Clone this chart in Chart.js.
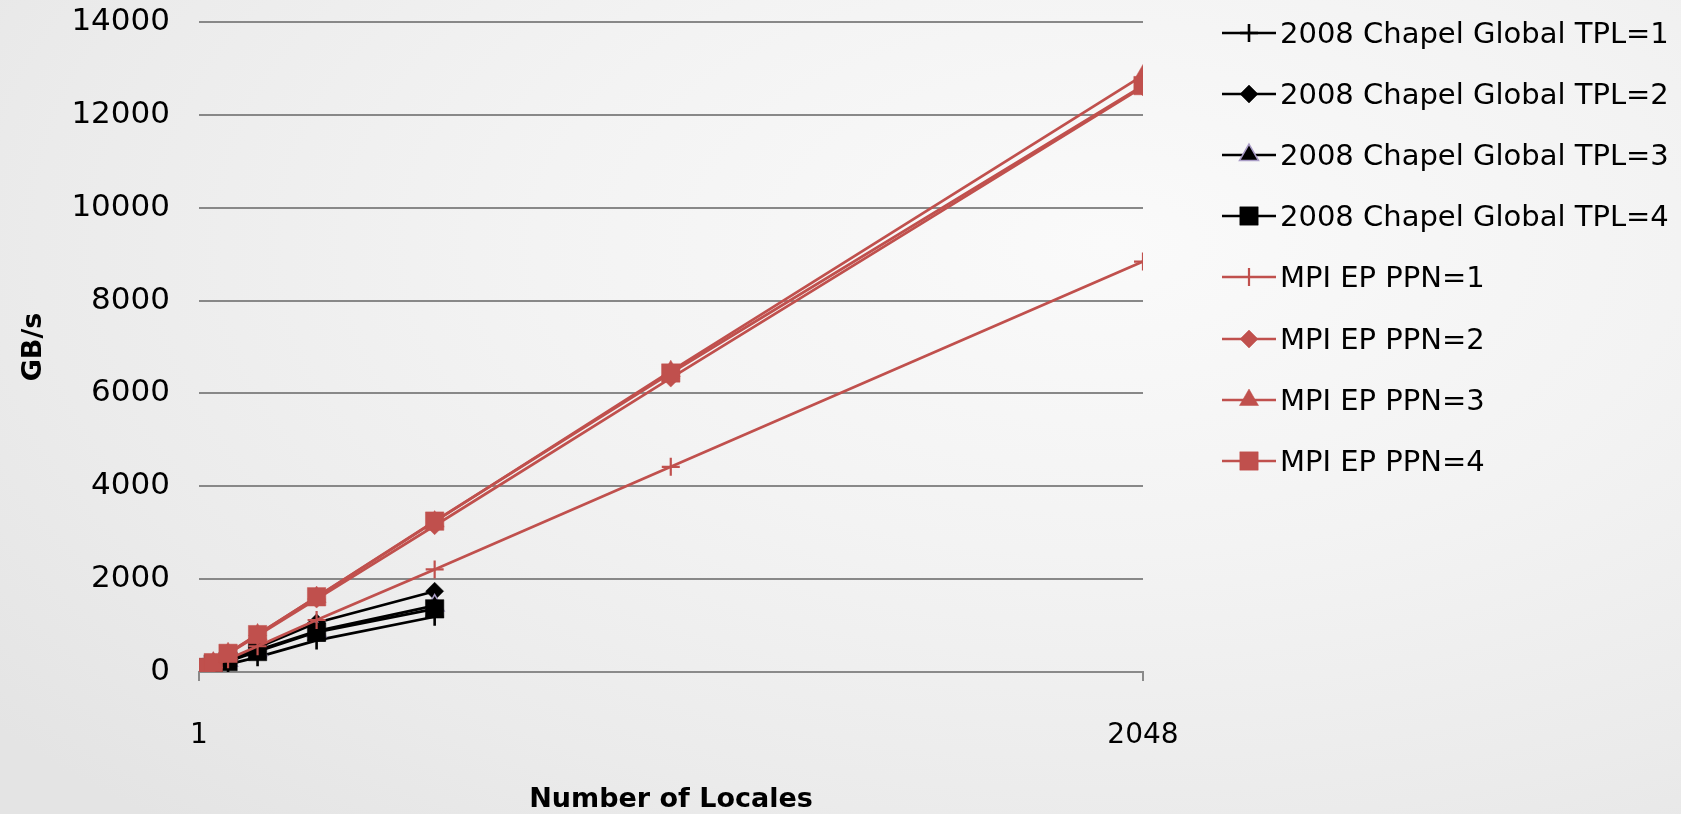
<!DOCTYPE html>
<html>
<head>
<meta charset="utf-8">
<title>Chapel vs MPI EP bandwidth</title>
<script src="https://cdn.jsdelivr.net/npm/chart.js@4.4.0/dist/chart.umd.min.js"></script>
<style>
  html, body { margin: 0; padding: 0; }
  body {
    width: 1681px; height: 814px; overflow: hidden; position: relative;
    background: radial-gradient(ellipse 85% 95% at 66% 30%, #fafafa 0%, #f3f3f3 40%, #ebebeb 75%, #e4e4e4 100%);
    font-family: "DejaVu Sans", sans-serif;
  }
  #wrap { position: absolute; left: 0; top: 0; width: 1681px; height: 814px; }
  #legend { position: absolute; left: 1222px; top: 0; }
  .row { position: absolute; left: 0; height: 40px; display: flex; align-items: center; white-space: nowrap; }
  .row canvas { width: 56px; height: 40px; }
  .row span { font-size: 29px; color: #000; margin-left: 2px; line-height: 40px; }
</style>
</head>
<body>
<div id="wrap"><canvas id="bw"></canvas></div>
<div id="legend"></div>
<script>
// ── Data ────────────────────────────────────────────────────
const locales = [1, 2, 4, 8, 16, 32, 64, 128, 256, 512, 1024, 2048];
const chapelLocales = [1, 2, 4, 8, 16, 32, 64, 128, 256, 512];

const chapelTpl1 = [4, 8, 16, 32, 62, 120, 165, 320, 680, 1190];
const chapelTpl2 = [6, 12, 24, 48, 95, 185, 270, 530, 1060, 1740];
const chapelTpl3 = [6, 12, 23, 46, 90, 175, 240, 470, 880, 1430];
const chapelTpl4 = [6, 12, 23, 45, 88, 170, 225, 440, 860, 1360];

const mpiPpn1 = [4.3, 8.6, 17, 35, 69, 138, 277, 555, 1120, 2210, 4420, 8840];
const mpiPpn2 = [6.1, 12.2, 24.5, 49, 98, 196, 393, 785, 1570, 3150, 6330, 12600];
const mpiPpn3 = [6.3, 12.6, 25, 50, 101, 202, 404, 810, 1615, 3240, 6480, 12850];
const mpiPpn4 = [6.3, 12.6, 25, 50, 100, 201, 402, 805, 1620, 3250, 6440, 12630];

const xTickValues = [1, 2048];
const yTicks = { min: 0, max: 14000, step: 2000 };

const BLACK = '#000000';
const RED = '#c0504d';
const FONT = '"DejaVu Sans", sans-serif';

function pairs(xs, ys) {
  return ys.map((y, i) => ({ x: xs[i], y }));
}

// marker settings per series
const seriesDefs = [
  { label: '2008 Chapel Global TPL=1', xs: chapelLocales, ys: chapelTpl1, color: BLACK, style: 'cross', r: 9 },
  { label: '2008 Chapel Global TPL=2', xs: chapelLocales, ys: chapelTpl2, color: BLACK, style: 'rectRot', r: 9 },
  { label: '2008 Chapel Global TPL=3', xs: chapelLocales, ys: chapelTpl3, color: BLACK, style: 'triangle', r: 11, edge: '#a99cc6' },
  { label: '2008 Chapel Global TPL=4', xs: chapelLocales, ys: chapelTpl4, color: BLACK, style: 'rect', r: 13 },
  { label: 'MPI EP PPN=1', xs: locales, ys: mpiPpn1, color: RED, style: 'cross', r: 9 },
  { label: 'MPI EP PPN=2', xs: locales, ys: mpiPpn2, color: RED, style: 'rectRot', r: 9 },
  { label: 'MPI EP PPN=3', xs: locales, ys: mpiPpn3, color: RED, style: 'triangle', r: 11 },
  { label: 'MPI EP PPN=4', xs: locales, ys: mpiPpn4, color: RED, style: 'rect', r: 13 },
];

const lineWidthOf = (s) => (s.color === RED ? 2.7 : 2.7);
const markerEdgeWidth = (s) => (s.style === 'cross' ? (s.color === RED ? 2.2 : 2.6) : (s.edge ? 1.5 : 0.5));

const datasets = seriesDefs.map((s, i) => ({
  label: s.label,
  data: pairs(s.xs, s.ys),
  showLine: true,
  borderColor: s.color,
  borderWidth: lineWidthOf(s),
  pointStyle: s.style,
  pointRadius: s.r,
  pointBackgroundColor: s.color,
  pointBorderColor: s.edge || s.color,
  pointBorderWidth: markerEdgeWidth(s),
  order: seriesDefs.length - i, // later series on top
}));

// ── Chart ───────────────────────────────────────────────────
new Chart(document.getElementById('bw'), {
  type: 'scatter',
  data: { datasets },
  options: {
    responsive: true,
    maintainAspectRatio: false,
    animation: false,
    layout: { autoPadding: false, padding: { left: 0, top: 22, right: 538, bottom: 0 } },
    plugins: { legend: { display: false }, tooltip: { enabled: false } },
    scales: {
      x: {
        type: 'linear',
        min: 1,
        max: 2048,
        afterBuildTicks: (scale) => { scale.ticks = xTickValues.map(v => ({ value: v })); },
        afterFit: (scale) => { scale.height = 142; },
        grid: { drawOnChartArea: false, drawTicks: true, tickLength: 9, color: '#8a8a8a', lineWidth: 2 },
        border: { display: true, color: '#8a8a8a', width: 2 },
        ticks: {
          color: '#000', font: { family: FONT, size: 28 }, padding: 38, maxRotation: 0, autoSkip: false,
          callback: (v) => String(v),
        },
        title: {
          display: true,
          text: 'Number of Locales',
          color: '#000',
          font: { family: FONT, size: 27, weight: 'bold' },
          padding: { top: 0, bottom: -2 },
        },
      },
      y: {
        min: yTicks.min,
        max: yTicks.max,
        afterFit: (scale) => { scale.width = 199; scale.paddingTop = 0; scale.paddingBottom = 0; },
        ticks: {
          stepSize: yTicks.step, color: '#000', font: { family: FONT, size: 31 }, padding: 29,
          callback: (v) => String(v),
        },
        grid: { color: '#888888', lineWidth: 2, drawTicks: false },
        border: { display: false },
        title: {
          display: true,
          text: 'GB/s',
          color: '#000',
          font: { family: FONT, size: 27, weight: 'bold' },
          padding: { top: 18, bottom: 0 },
        },
      },
    },
  },
});

// ── Legend (line with marker, Excel style) ──────────────────
function drawMarker(ctx, style, x, y, r, fill, edge, lw) {
  ctx.save();
  ctx.fillStyle = fill;
  ctx.strokeStyle = edge;
  ctx.lineWidth = lw;
  ctx.beginPath();
  if (style === 'cross') {
    ctx.moveTo(x, y - r); ctx.lineTo(x, y + r);
    ctx.moveTo(x - r, y); ctx.lineTo(x + r, y);
    ctx.stroke();
  } else if (style === 'rectRot') {
    ctx.moveTo(x, y - r); ctx.lineTo(x + r, y); ctx.lineTo(x, y + r); ctx.lineTo(x - r, y);
    ctx.closePath(); ctx.fill(); ctx.stroke();
  } else if (style === 'triangle') {
    const w = r * Math.sqrt(3) / 2;
    ctx.moveTo(x, y - r); ctx.lineTo(x + w, y + r / 2); ctx.lineTo(x - w, y + r / 2);
    ctx.closePath(); ctx.fill(); ctx.stroke();
  } else {
    const s = r * Math.SQRT1_2;
    ctx.rect(x - s, y - s, 2 * s, 2 * s);
    ctx.fill(); ctx.stroke();
  }
  ctx.restore();
}

const legend = document.getElementById('legend');
seriesDefs.forEach((s, i) => {
  const row = document.createElement('div');
  row.className = 'row';
  row.style.top = (33 + i * 61.1 - 20) + 'px';
  const c = document.createElement('canvas');
  c.width = 56; c.height = 40;
  const ctx = c.getContext('2d');
  ctx.strokeStyle = s.color;
  ctx.lineWidth = lineWidthOf(s);
  ctx.beginPath(); ctx.moveTo(0, 20); ctx.lineTo(54, 20); ctx.stroke();
  drawMarker(ctx, s.style, 27, 20, s.r, s.color, s.edge || s.color, markerEdgeWidth(s));
  const t = document.createElement('span');
  t.textContent = s.label;
  row.appendChild(c);
  row.appendChild(t);
  legend.appendChild(row);
});
</script>
</body>
</html>
